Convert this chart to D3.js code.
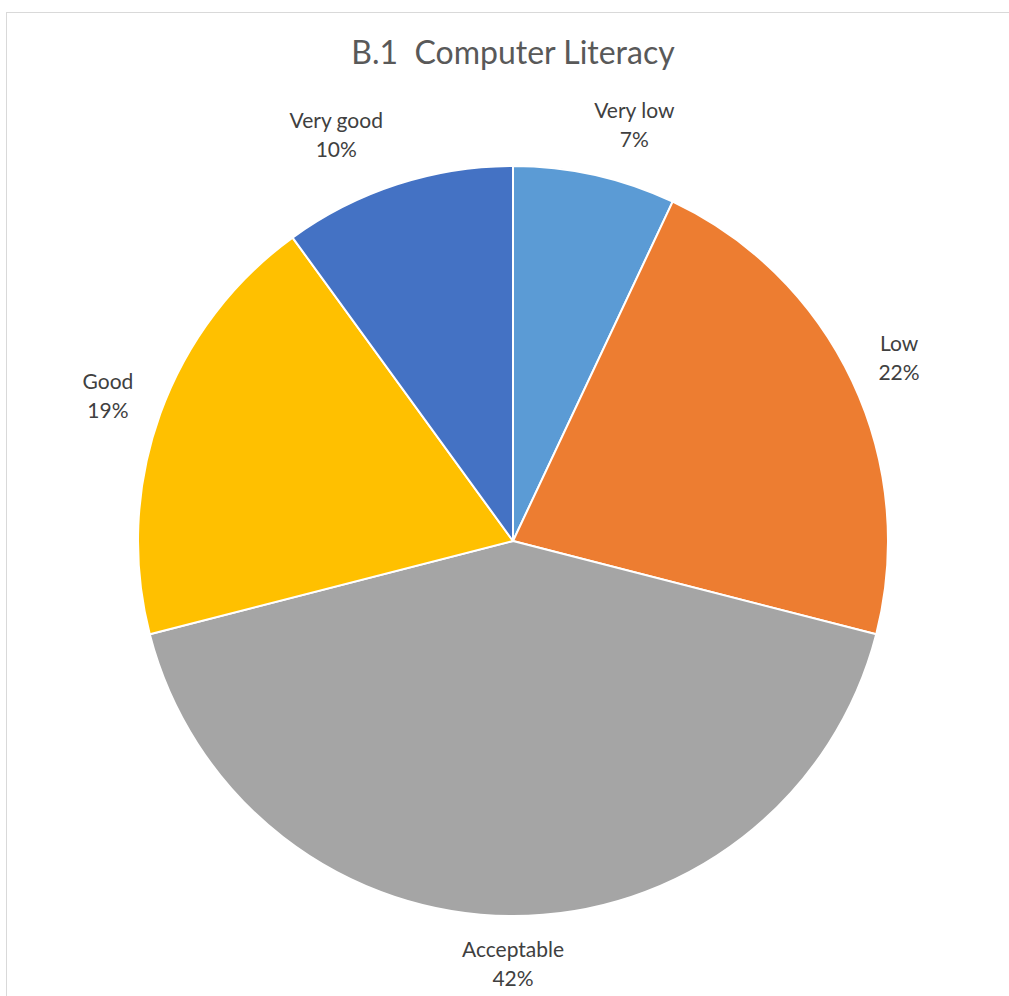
<!DOCTYPE html>
<html>
<head>
<meta charset="utf-8">
<script src="https://cdn.jsdelivr.net/npm/d3@7"></script>
<style>
  html, body { margin: 0; padding: 0; background: #ffffff; }
  svg { display: block; }
</style>
</head>
<body>
<svg id="chart" width="1009" height="996"></svg>
<script>
// Computer literacy survey shares, in percent
const categories = ["Very low", "Low", "Acceptable", "Good", "Very good"];
const values = [7, 22, 42, 19, 10];
const colors = ["#5B9BD5", "#ED7D31", "#A5A5A5", "#FFC000", "#4472C4"];
const title = "B.1  Computer Literacy";

const W = 1009, H = 996;
const cx = 513, cy = 541, radius = 375;
const labelFont = "Lato, 'Open Sans', sans-serif";

const svg = d3.select("#chart");

// chart area frame
svg.append("rect")
  .attr("x", 6.5).attr("y", 12.5)
  .attr("width", W + 10).attr("height", H + 10)
  .attr("fill", "#ffffff")
  .attr("stroke", "#d9d9d9").attr("stroke-width", 1);

svg.append("text")
  .attr("x", cx).attr("y", 64)
  .attr("text-anchor", "middle")
  .attr("font-family", labelFont)
  .attr("font-size", 32)
  .attr("fill", "#595959")
  .style("white-space", "pre")
  .text(title);

const data = categories.map((c, i) => ({ name: c, value: values[i], color: colors[i] }));

const pie = d3.pie().value(d => d.value).sort(null);
const arcs = pie(data);
const arc = d3.arc().innerRadius(0).outerRadius(radius);

const g = svg.append("g").attr("transform", `translate(${cx},${cy})`);

g.selectAll("path.slice")
  .data(arcs)
  .enter().append("path")
  .attr("class", "slice")
  .attr("d", arc)
  .attr("fill", d => d.data.color)
  .attr("stroke", "#ffffff")
  .attr("stroke-width", 2)
  .attr("stroke-linejoin", "round");

// outside-end labels: the box sits just beyond the rim on each slice bisector
const pct = d3.format(".0%");
const total = d3.sum(values);
const labelGap = 20;
const sidePad = 8;
const lineH = 29;

const labels = g.selectAll("g.label")
  .data(arcs)
  .enter().append("g")
  .attr("class", "label");

labels.each(function(d) {
  const lg = d3.select(this);
  const t = lg.append("text")
    .attr("font-family", labelFont)
    .attr("font-size", 21)
    .attr("fill", "#404040")
    .attr("text-anchor", "middle");
  t.append("tspan").attr("x", 0).attr("dy", 0).text(d.data.name);
  t.append("tspan").attr("x", 0).attr("dy", lineH).text(pct(d.data.value / total));

  const bb = t.node().getBBox();
  const a = (d.startAngle + d.endAngle) / 2;
  const s = Math.sin(a), c = -Math.cos(a);
  const px = (radius + labelGap) * s;
  const py = (radius + labelGap) * c;
  const sx = Math.max(-1, Math.min(1, s / 0.3));
  const sy = c / Math.max(Math.abs(s), Math.abs(c));
  const boxW = bb.width, boxH = 2 * lineH;
  const centerX = px + sx * (boxW / 2 + sidePad);
  const centerY = py + sy * boxH / 2;
  // first baseline sits about 0.72 of a line below the box top
  lg.attr("transform", `translate(${centerX},${centerY - boxH / 2 + lineH * 0.72})`);
});
</script>
</body>
</html>
